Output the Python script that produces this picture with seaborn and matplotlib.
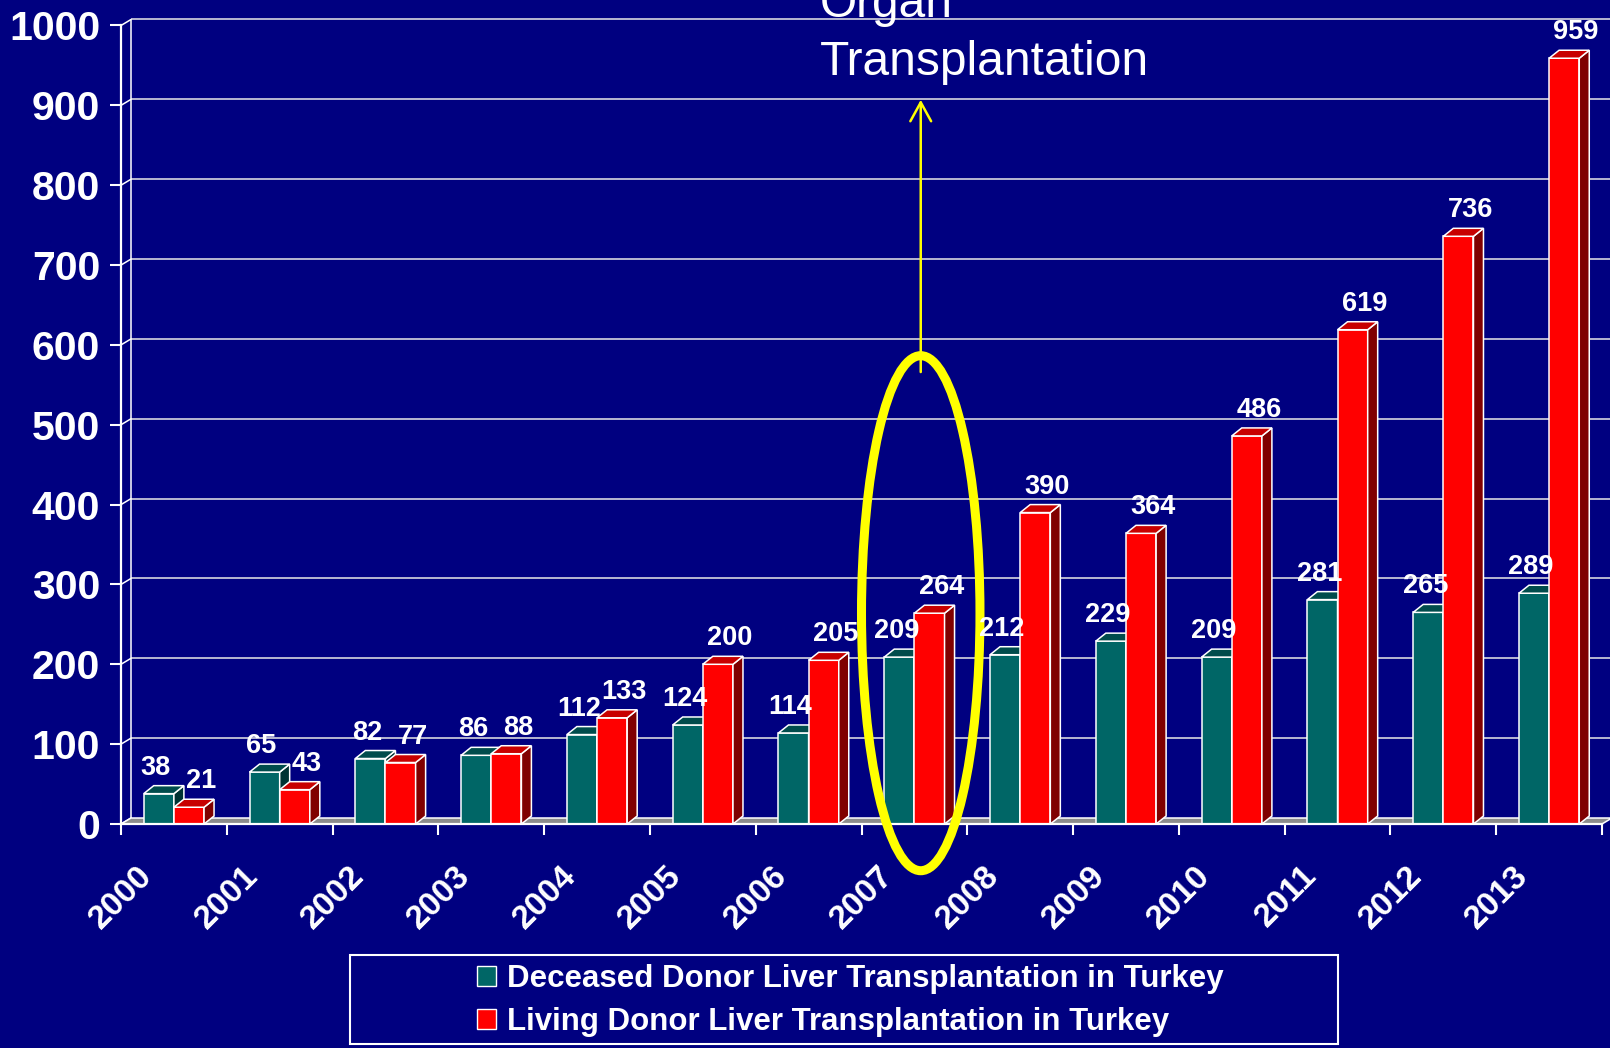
import numpy as np
import pandas as pd
import matplotlib
matplotlib.use("Agg")
import matplotlib.pyplot as plt
import seaborn as sns
from matplotlib.patches import Polygon, Ellipse, Rectangle, Patch
from matplotlib.lines import Line2D
from matplotlib.transforms import ScaledTranslation, IdentityTransform

# ---------------- data ----------------
years = [str(y) for y in range(2000, 2014)]
deceased = [38, 65, 82, 86, 112, 124, 114, 209, 212, 229, 209, 281, 265, 289]
living = [21, 43, 77, 88, 133, 200, 205, 264, 390, 364, 486, 619, 736, 959]
series_names = ["Deceased Donor Liver Transplantation in Turkey",
                "Living Donor Liver Transplantation in Turkey"]
y_ticks = list(range(0, 1001, 100))
title_lines = ["Organ", "Transplantation"]
highlight_year = "2007"

# ---------------- style ----------------
NAVY = "#000080"
front_colors = ["#006666", "#FF0000"]
top_colors = ["#004C4C", "#C80000"]
side_colors = ["#003333", "#800000"]
label_xoff = [-3, 12]       # pixel shift of value labels per series
W, H, DPI = 1610, 1048, 100

sns.set_theme(style="white")
plt.rcParams["font.family"] = ["Liberation Sans", "DejaVu Sans"]

fig = plt.figure(figsize=(W / DPI, H / DPI), dpi=DPI, facecolor=NAVY)
ax = fig.add_axes([121 / W, 224 / H, 1481 / W, 798.5 / H])
ax.set_facecolor("none")

df = pd.DataFrame({
    "Year": years * 2,
    "Count": deceased + living,
    "Series": [series_names[0]] * len(years) + [series_names[1]] * len(years),
})
sns.barplot(data=df, x="Year", y="Count", hue="Series", order=years,
            hue_order=series_names, palette=front_colors, width=0.57,
            saturation=1, edgecolor="white", linewidth=1.1, legend=False, ax=ax)

ax.set_xlim(-0.5, len(years) - 0.5)
ax.set_ylim(0, 1000)
ax.set_xlabel("")
ax.set_ylabel("")

# depth offsets (pixels)
DX, DY = 10, 8
WX, WY = 10, 6
trans_px = IdentityTransform()

def to_px(pts):
    return ax.transData.transform(np.asarray(pts, dtype=float))

# floor
fl = to_px([(-0.5, 0), (len(years) - 0.5, 0)])
floor = [fl[0], fl[1], fl[1] + (WX, WY), fl[0] + (WX, WY)]
ax.add_artist(Polygon(floor, closed=True, transform=trans_px, fc="#8C8C8C",
                      ec="white", lw=1.1, zorder=0.8, clip_on=False))

# back wall gridlines + connectors
wall_off = ScaledTranslation(WX / DPI, WY / DPI, fig.dpi_scale_trans)
ax.hlines(y_ticks[1:], 0, 1.05, transform=ax.get_yaxis_transform() + wall_off,
          colors="#E8E8E8", lw=1.1, zorder=0.5, clip_on=False)
for v in y_ticks:
    p = to_px([(-0.5, v)])[0]
    ax.add_artist(Line2D([p[0], p[0] + WX], [p[1], p[1] + WY], transform=trans_px,
                         color="white", lw=1.1, zorder=0.6, clip_on=False))
wb = to_px([(-0.5, 0), (-0.5, 1000)])
ax.add_artist(Line2D([wb[0][0] + WX, wb[1][0] + WX], [wb[0][1] + WY, wb[1][1] + WY],
                     transform=trans_px, color="white", lw=1.1, zorder=0.6, clip_on=False))

# 3D bars
for i, cont in enumerate(ax.containers):
    zb = 2 + 2 * i
    for bar in cont:
        bar.set_zorder(zb)
        x0, w, h = bar.get_x(), bar.get_width(), bar.get_height()
        BL, BR, TR, TL = to_px([(x0, 0), (x0 + w, 0), (x0 + w, h), (x0, h)])
        off = np.array([DX, DY])
        side = [BR, BR + off, TR + off, TR]
        top = [TL, TR, TR + off, TL + off]
        ax.add_artist(Polygon(side, closed=True, transform=trans_px, fc=side_colors[i],
                              ec="white", lw=1.1, zorder=zb + 0.1, clip_on=False))
        ax.add_artist(Polygon(top, closed=True, transform=trans_px, fc=top_colors[i],
                              ec="white", lw=1.1, zorder=zb + 0.2, clip_on=False))
        ax.annotate(f"{int(round(h))}", xy=(x0 + w / 2, h),
                    xytext=(label_xoff[i], DY + 5),
                    textcoords="offset pixels", ha="center", va="bottom",
                    color="white", fontsize=19.5, fontweight="bold", zorder=10)

# spines / ticks
for s in ["top", "right"]:
    ax.spines[s].set_visible(False)
for s in ["left", "bottom"]:
    ax.spines[s].set_color("white")
    ax.spines[s].set_linewidth(1.6)
    ax.spines[s].set_zorder(6)

ax.set_yticks(y_ticks)
ax.set_yticklabels([str(v) for v in y_ticks])
ax.tick_params(axis="y", colors="white", length=8, width=1.5, pad=7,
               labelsize=29.5, direction="out", left=True)
for lbl in ax.get_yticklabels():
    lbl.set_fontweight("bold")

ax.set_xticks(range(len(years)))
ax.set_xticklabels(years, rotation=45, ha="right", va="top")
ax.set_xticks(np.arange(-0.5, len(years), 1), minor=True)
ax.tick_params(axis="x", which="major", length=0, pad=26, labelsize=24,
               labelcolor="white")
ax.tick_params(axis="x", which="minor", length=8, width=1.5, color="white",
               direction="out", bottom=True)
shift = ScaledTranslation(-15 / DPI, 0, fig.dpi_scale_trans)
for lbl in ax.get_xticklabels():
    lbl.set_fontweight("bold")
    lbl.set_transform(lbl.get_transform() + shift)

# highlight ellipse and arrow
hx = years.index(highlight_year) + 0.06
ax.add_patch(Ellipse((hx, 264), width=1.12, height=645, fill=False,
                     ec="#FFFF00", lw=6.5, zorder=9, clip_on=False))
ax.annotate("", xy=(hx, 907), xytext=(hx, 566),
            arrowprops=dict(arrowstyle="->,head_length=0.4,head_width=0.22",
                            color="#FFFF00", lw=1.8, mutation_scale=34,
                            shrinkA=0, shrinkB=0), zorder=9, annotation_clip=False)

# title text (partly cut by the top edge, as in the original)
fig.text(820 / W, 1 - 17 / H, title_lines[0], ha="left", va="baseline",
         fontsize=34.5, color="white")
fig.text(820 / W, 1 - 75 / H, title_lines[1], ha="left", va="baseline",
         fontsize=34.5, color="white")

# legend
fig.add_artist(Rectangle((350 / W, 4 / H), 988 / W, 89 / H, transform=fig.transFigure,
                         fill=False, ec="white", lw=1.5))
handles = [Patch(fc=c, ec="white", lw=1.0) for c in front_colors]
leg = fig.legend(handles, series_names, loc="center", bbox_to_anchor=(0.528, 0.0455),
                 frameon=False, prop=dict(weight="bold", size=22.5), labelcolor="white",
                 handlelength=0.6, handleheight=0.6, handletextpad=0.35,
                 labelspacing=0.42)

fig.savefig("out.png", dpi=DPI, facecolor=NAVY)
